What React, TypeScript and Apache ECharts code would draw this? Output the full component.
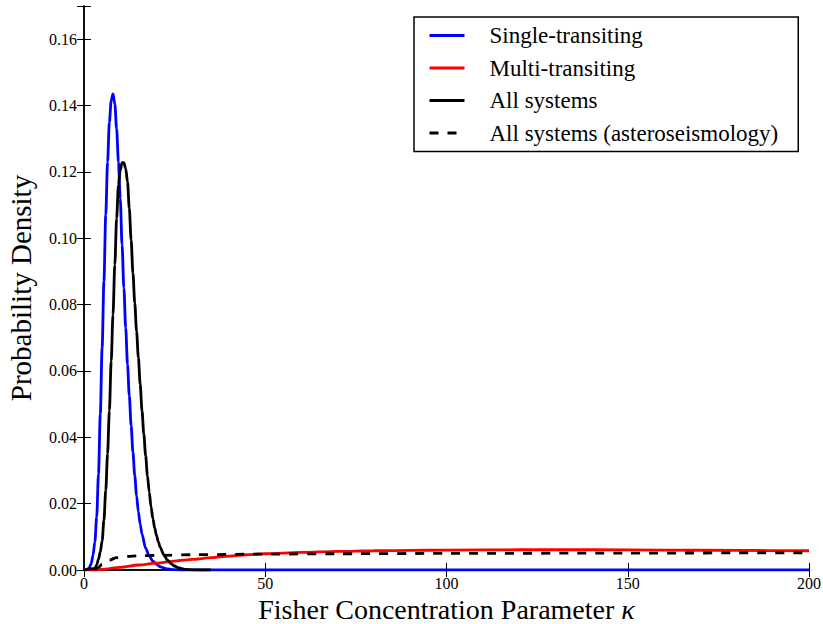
import React, { useEffect, useRef } from "react";
import * as echarts from "echarts";

// κ grid and densities
const singleK = [0, 1, 1.5, 2, 2.5, 3, 3.5, 4, 4.5, 5, 5.5, 6, 6.5, 7, 7.5, 8, 8.5, 9, 9.5, 10, 10.5, 11, 11.5, 12, 12.5, 13, 13.5, 14, 14.5, 15, 15.5, 16, 17, 18, 19, 20, 21, 22, 23, 25, 27, 30, 200];
const singleV = [0, 0.0002, 0.0008, 0.002, 0.0045, 0.0085, 0.016, 0.029, 0.047, 0.067, 0.087, 0.107, 0.123, 0.135, 0.1415, 0.1435, 0.1405, 0.133, 0.123, 0.112, 0.098, 0.085, 0.073, 0.062, 0.0525, 0.0435, 0.0355, 0.0285, 0.0225, 0.0175, 0.0138, 0.0108, 0.0066, 0.0042, 0.0027, 0.0017, 0.001, 0.0006, 0.0003, 0.0001, 0, 0, 0];

const multiK = [0, 3, 5, 10, 15, 20, 25, 30, 35, 40, 45, 50, 60, 70, 80, 90, 100, 120, 140, 160, 180, 200];
const multiV = [0, 0, 0.0002, 0.0008, 0.0015, 0.0021, 0.0027, 0.0032, 0.0037, 0.0042, 0.0046, 0.0049, 0.0053, 0.0056, 0.0058, 0.0059, 0.006, 0.0061, 0.0061, 0.006, 0.0059, 0.0058];

const allK = [0, 3, 3.5, 4, 4.5, 5, 5.5, 6, 6.5, 7, 7.5, 8, 8.5, 9, 9.5, 10, 10.5, 11, 11.5, 12, 12.5, 13, 13.5, 14, 14.5, 15, 15.5, 16, 16.5, 17, 17.5, 18, 18.5, 19, 19.5, 20, 20.5, 21, 22, 23, 24, 25, 26, 27, 28, 30, 32, 35];
const allV = [0, 0.0005, 0.0015, 0.0033, 0.0055, 0.0088, 0.015, 0.024, 0.035, 0.048, 0.063, 0.077, 0.092, 0.106, 0.116, 0.1205, 0.1228, 0.1228, 0.121, 0.117, 0.109, 0.0995, 0.0895, 0.0805, 0.072, 0.064, 0.056, 0.048, 0.041, 0.0345, 0.0285, 0.0235, 0.019, 0.0155, 0.0127, 0.0104, 0.0085, 0.0069, 0.0046, 0.003, 0.0019, 0.0012, 0.0007, 0.0004, 0.0002, 0.00005, 0, 0];

const astK = [3, 4, 5, 7, 9, 12, 15, 20, 30, 50, 70, 100, 150, 200];
const astV = [0, 0.0008, 0.0017, 0.003, 0.0037, 0.0041, 0.0043, 0.0044, 0.0046, 0.0048, 0.0049, 0.005, 0.0051, 0.0052];

const seriesNames = ["Single-transiting", "Multi-transiting", "All systems", "All systems (asteroseismology)"];

const FONT = "Liberation Serif";

const zip = (k: number[], v: number[]) => k.map((x, i) => [x, v[i]]);

export default function App() {
  const ref = useRef<HTMLDivElement>(null);
  useEffect(() => {
    if (!ref.current) return;
    const chart = echarts.init(ref.current, null, { renderer: "svg" });
    const axisLine = { show: true, lineStyle: { color: "#000", width: 1.5 } };
    const tick = { show: true, inside: true, length: 7, lineStyle: { color: "#000", width: 1 } };
    const lineS = (name: string, data: number[][], color: string, dashed = false) => ({
      name,
      type: "line",
      data,
      symbol: "none",
      smooth: 0.3,
      smoothMonotone: "x",
      lineStyle: { color, width: 2.8, type: dashed ? [9, 9] : "solid" },
      itemStyle: { color },
    });
    chart.setOption({
      animation: false,
      backgroundColor: "#fff",
      grid: { left: 84, right: 14, top: 6, bottom: 54, outerBoundsMode: "none", containLabel: false },
      xAxis: [
        {
          type: "value", min: 0, max: 200, interval: 50,
          axisLine, axisTick: tick, splitLine: { show: false },
          axisLabel: { color: "#000", fontFamily: FONT, fontSize: 16, margin: 5 },
          name: "Fisher Concentration Parameter {i|κ}",
          nameLocation: "middle", nameGap: 24,
          nameTextStyle: { color: "#000", fontFamily: FONT, fontSize: 28, rich: { i: { fontStyle: "italic", fontFamily: FONT, fontSize: 28, color: "#000" } } },
        },
        {
          type: "value", min: 0, max: 200, interval: 50, position: "top",
          axisLine, axisTick: tick, axisLabel: { show: false }, splitLine: { show: false },
        },
      ],
      yAxis: [
        {
          type: "value", min: 0, max: 0.17, interval: 0.02,
          axisLine, axisTick: tick, splitLine: { show: false },
          axisLabel: {
            color: "#000", fontFamily: FONT, fontSize: 16, margin: 7,
            formatter: (v: number) => (v > 0.165 ? "" : v.toFixed(2)),
          },
          name: "Probability Density", nameLocation: "middle", nameGap: 49,
          nameTextStyle: { color: "#000", fontFamily: FONT, fontSize: 29 },
        },
        {
          type: "value", min: 0, max: 0.17, interval: 0.02, position: "right",
          axisLine, axisTick: tick, axisLabel: { show: false }, splitLine: { show: false },
        },
      ],
      legend: {
        orient: "vertical", left: 414, top: 17,
        data: seriesNames,
        itemWidth: 35, itemHeight: 12, itemGap: 9.5,
        padding: [7, 20, 7, 14],
        borderColor: "#000", borderWidth: 1.5, borderRadius: 0,
        backgroundColor: "#fff",
        itemStyle: { opacity: 0 },
        lineStyle: { width: 3 },
        textStyle: { color: "#000", fontFamily: FONT, fontSize: 23, lineHeight: 20, padding: [0, 0, 0, 20] },
      },
      series: [
        lineS(seriesNames[0], zip(singleK, singleV), "#0000ff"),
        lineS(seriesNames[1], zip(multiK, multiV), "#ff0000"),
        lineS(seriesNames[2], zip(allK, allV), "#000000"),
        lineS(seriesNames[3], zip(astK, astV), "#000000", true),
      ],
    });
    return () => chart.dispose();
  }, []);
  return <div ref={ref} style={{ width: 823, height: 624, position: "absolute", left: 0, top: 0 }} />;
}
